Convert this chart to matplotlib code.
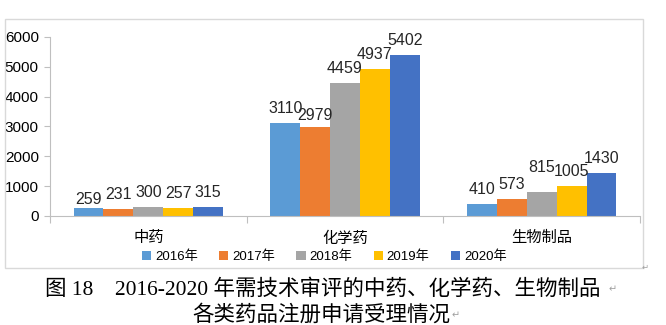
import matplotlib.pyplot as plt
from matplotlib.patches import Rectangle
import numpy as np

categories = ["中药", "化学药", "生物制品"]
years = ["2016年", "2017年", "2018年", "2019年", "2020年"]
values = {
    "2016年": [259, 3110, 410],
    "2017年": [231, 2979, 573],
    "2018年": [300, 4459, 815],
    "2019年": [257, 4937, 1005],
    "2020年": [315, 5402, 1430],
}
colors = ["#5B9BD5", "#ED7D31", "#A5A5A5", "#FFC000", "#4472C4"]

plt.rcParams['font.family'] = ['Liberation Sans Narrow', 'Liberation Sans', 'Noto Sans CJK SC', 'DejaVu Sans']

fig = plt.figure(figsize=(6.66, 3.25), dpi=100)
ax = fig.add_axes([0.075, 0.3354, 0.886, 0.5508])

# outer chart border
fig.add_artist(Rectangle((0.0075, 0.175), 0.958, 0.7665, transform=fig.transFigure,
                         fill=False, edgecolor="#D9D9D9", linewidth=1))

x = np.arange(len(categories))
w = 0.152
# small label nudges (points) where labels sit higher/lower than usual
nudge = {(0, 0): -4, (2, 2): 7, (1, 1): -2}
for i, yr in enumerate(years):
    pos = x + (i - 2) * w
    ax.bar(pos, values[yr], width=w, color=colors[i], label=yr, zorder=2)
    for j, v in enumerate(values[yr]):
        ax.annotate(str(v), (pos[j], v), xytext=(0, 5 + nudge.get((j, i), 0)),
                    textcoords="offset points", ha="center", va="bottom",
                    fontsize=11.5, color="#262626")

ax.set_xlim(-0.5, 2.5)
ax.set_ylim(0, 6000)
ax.set_yticks(range(0, 6001, 1000))
ax.tick_params(axis="y", labelsize=11, length=4, color="#BFBFBF", labelcolor="#000000", pad=4)

ax.set_xticks([-0.5, 0.5, 1.5, 2.5])
ax.set_xticklabels([])
ax.set_xticks(x, minor=True)
ax.set_xticklabels(categories, minor=True, fontsize=11)
ax.tick_params(axis="x", which="major", length=5, color="#BFBFBF")
ax.tick_params(axis="x", which="minor", length=0, pad=11)

for s in ["top", "right"]:
    ax.spines[s].set_visible(False)
for s in ["left", "bottom"]:
    ax.spines[s].set_color("#BFBFBF")

fig.legend(loc="center", bbox_to_anchor=(0.487, 0.21), ncol=5, frameon=False,
           fontsize=9.5, handlelength=0.7, handleheight=0.7, handletextpad=0.3,
           columnspacing=1.6)

cap_font = ['Liberation Serif', 'Noto Sans CJK SC', 'DejaVu Sans']
fig.text(0.485, 0.108, "图 18    2016-2020 年需技术审评的中药、化学药、生物制品",
         ha="center", va="center", fontsize=15.5, family=cap_font)
fig.text(0.482, 0.03, "各类药品注册申请受理情况", ha="center", va="center",
         fontsize=15.5, family=cap_font)
fig.text(0.913, 0.1, "↵", fontsize=7, color="#A0A0A0", family=['DejaVu Sans'])
fig.text(0.678, 0.022, "↵", fontsize=7, color="#A0A0A0", family=['DejaVu Sans'])
fig.text(0.963, 0.17, "↵", fontsize=6, color="#A0A0A0", family=['DejaVu Sans'])

fig.savefig("out.png", dpi=100)
